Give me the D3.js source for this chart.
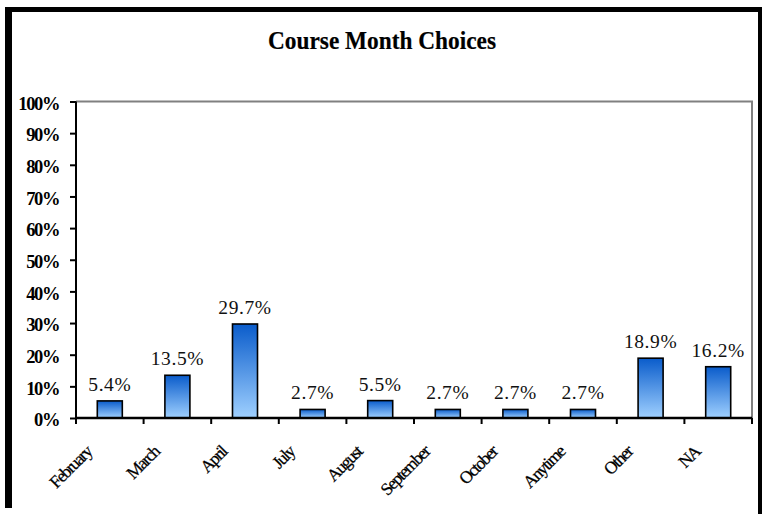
<!DOCTYPE html>
<html>
<head>
<meta charset="utf-8">
<script src="https://cdn.jsdelivr.net/npm/d3@7"></script>
<style>
  body { margin: 0; background: #fff; }
  svg { display: block; }
</style>
</head>
<body>
<div id="chart"></div>
<script>
// data
var months = ["February", "March", "April", "July", "August", "September", "October", "Anytime", "Other", "NA"];
var shares = [5.4, 13.5, 29.7, 2.7, 5.5, 2.7, 2.7, 2.7, 18.9, 16.2];
var yTicks = [0, 10, 20, 30, 40, 50, 60, 70, 80, 90, 100];
var chartTitle = "Course Month Choices";

var W = 764, H = 514;
var plot = {l: 76, t: 101.5, r: 752, b: 418};
var serif = "'Liberation Serif', 'DejaVu Serif', serif";

var svg = d3.select("#chart").append("svg").attr("width", W).attr("height", H);

//frame
svg.append("rect").attr("x", 0).attr("y", 0).attr("width", W).attr("height", H).attr("fill", "#fff");
svg.append("line").attr("x1", 5).attr("x2", 762).attr("y1", 9.5).attr("y2", 9.5)
   .attr("stroke", "#000").attr("stroke-width", 5);
svg.append("line").attr("x1", 8.5).attr("x2", 8.5).attr("y1", 7).attr("y2", 508)
   .attr("stroke", "#000").attr("stroke-width", 7);
svg.append("line").attr("x1", 760).attr("x2", 760).attr("y1", 7).attr("y2", H)
   .attr("stroke", "#000").attr("stroke-width", 4);

//title
svg.append("text").attr("x", 382).attr("y", 49).attr("text-anchor", "middle")
   .attr("font-family", serif).attr("font-weight", "bold").attr("stroke", "#000").attr("stroke-width", 0.2)
   .attr("font-size", 26).attr("textLength", 228).attr("lengthAdjust", "spacingAndGlyphs")
   .attr("fill", "#000").text(chartTitle);

//scales
var x = d3.scaleBand().domain(months).range([plot.l, plot.r]).paddingInner(0.63).paddingOuter(0.315);
var xCat = d3.scaleBand().domain(months).range([plot.l, plot.r]);
var y = d3.scaleLinear().domain([0, 100]).range([plot.b, plot.t]);

//gradient
var defs = svg.append("defs");
var grad = defs.append("linearGradient").attr("id", "barfill").attr("x1", 0).attr("y1", 0).attr("x2", 0).attr("y2", 1);
grad.append("stop").attr("offset", "0%").attr("stop-color", "#0a5ccb");
grad.append("stop").attr("offset", "100%").attr("stop-color", "#9fd0ff");

//plot border (top and right in grey)
svg.append("path").attr("d", "M" + plot.l + "," + plot.t + "H" + plot.r + "V" + plot.b)
   .attr("fill", "none").attr("stroke", "#808080").attr("stroke-width", 2);

//bars
svg.append("g").selectAll("rect").data(shares).join("rect")
   .attr("x", function(d, i) { return x(months[i]); })
   .attr("y", function(d) { return y(d); })
   .attr("width", x.bandwidth())
   .attr("height", function(d) { return y(0) - y(d); })
   .attr("fill", "url(#barfill)")
   .attr("stroke", "#000").attr("stroke-width", 1.6);

//value labels
svg.append("g").selectAll("text").data(shares).join("text")
   .attr("x", function(d, i) { return x(months[i]) + x.bandwidth() / 2; })
   .attr("y", function(d) { return y(d) - 10; })
   .attr("text-anchor", "middle")
   .attr("font-family", serif).attr("letter-spacing", 0.6)
   .attr("font-size", 19.5).attr("fill", "#111")
   .text(function(d) { return d.toFixed(1) + "%"; });

//y axis
var yAxis = d3.axisLeft(y).tickValues(yTicks).tickSize(6).tickPadding(11)
              .tickFormat(function(d) { return d + "%"; });
var ya = svg.append("g").attr("transform", "translate(" + plot.l + ",0)").call(yAxis);
ya.select(".domain").attr("d", "M0," + plot.t + "V" + plot.b).attr("stroke", "#000").attr("stroke-width", 2);
ya.selectAll(".tick line").attr("stroke", "#000").attr("stroke-width", 2);
ya.selectAll(".tick text").attr("font-family", serif)
  .attr("font-weight", "bold").attr("font-size", 18.5).attr("letter-spacing", -1.4)
  .attr("fill", "#000").attr("dy", "0.42em");

//x axis
var xAxis = d3.axisBottom(xCat).tickSize(0).tickFormat("");
var xa = svg.append("g").attr("transform", "translate(0," + plot.b + ")").call(xAxis);
xa.select(".domain").attr("d", "M" + plot.l + ",0H" + plot.r).attr("stroke", "#000").attr("stroke-width", 2.5);
var edges = months.map(function(m) { return xCat(m); }).concat([plot.r]);
xa.selectAll(".edge").data(edges).join("line").attr("class", "edge")
  .attr("x1", function(d) { return d; }).attr("x2", function(d) { return d; })
  .attr("y1", 0).attr("y2", 6).attr("stroke", "#000").attr("stroke-width", 2);

//category labels
svg.append("g").selectAll("text").data(months).join("text")
   .attr("transform", function(d) {
     return "translate(" + (xCat(d) + xCat.bandwidth() / 2 - 17) + ",453) rotate(-45)";
   })
   .attr("text-anchor", "end")
   .attr("font-family", serif).attr("stroke", "#000").attr("stroke-width", 0.25)
   .attr("font-size", 17.5).attr("letter-spacing", -1.5).attr("fill", "#000")
   .text(function(d) { return d; });
</script>
</body>
</html>
